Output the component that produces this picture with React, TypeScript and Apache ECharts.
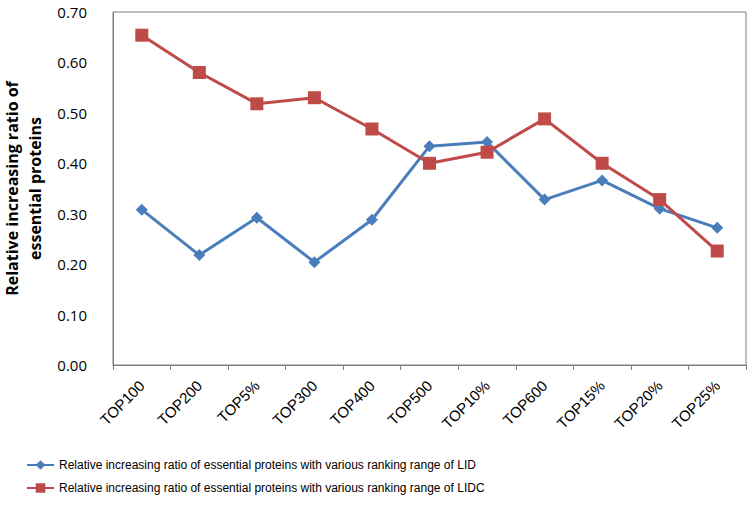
import React, { useEffect, useRef } from "react";
import * as echarts from "echarts";

const categories = ["TOP100", "TOP200", "TOP5%", "TOP300", "TOP400", "TOP500", "TOP10%", "TOP600", "TOP15%", "TOP20%", "TOP25%"];
const lidValues = [0.308, 0.218, 0.292, 0.204, 0.288, 0.434, 0.442, 0.328, 0.366, 0.31, 0.272];
const lidcValues = [0.654, 0.58, 0.518, 0.53, 0.468, 0.4, 0.422, 0.488, 0.4, 0.328, 0.226];
const seriesNames = [
  "Relative increasing ratio of essential proteins with various ranking range of LID",
  "Relative increasing ratio of essential proteins with various ranking range of LIDC",
];
const yAxisName = "Relative increasing ratio of\nessential proteins";

export default function App() {
  const ref = useRef<HTMLDivElement>(null);
  useEffect(() => {
    if (!ref.current) return;
    const chart = echarts.init(ref.current, null, { renderer: "svg" });
    chart.setOption({
      animation: false,
      backgroundColor: "#ffffff",
      grid: {
        left: 113,
        top: 12,
        right: 10,
        bottom: 151,
        show: true,
        borderColor: "#808080",
        borderWidth: 1,
        containLabel: false,
        outerBoundsMode: "none",
      },
      legend: {
        orient: "vertical",
        left: 26,
        top: 459,
        padding: 0,
        itemGap: 11,
        itemWidth: 27,
        itemHeight: 12,
        textStyle: { fontFamily: "Liberation Sans, Arial", fontSize: 12, color: "#000" },
        data: seriesNames,
      },
      xAxis: {
        type: "category",
        data: categories,
        boundaryGap: true,
        axisLine: { lineStyle: { color: "#808080", width: 1 } },
        axisTick: { show: true, alignWithLabel: false, length: 5, lineStyle: { color: "#808080" } },
        axisLabel: {
          rotate: 45,
          interval: 0,
          margin: 18,
          fontFamily: "Liberation Sans, Arial",
          fontSize: 15,
          color: "#000",
        },
      },
      yAxis: {
        type: "value",
        min: 0,
        max: 0.7,
        interval: 0.1,
        name: yAxisName,
        nameLocation: "middle",
        nameGap: 62,
        nameRotate: 90,
        nameTextStyle: {
          fontFamily: "Open Sans, Liberation Sans, Arial",
          fontWeight: "bold",
          fontSize: 16,
          color: "#000",
          lineHeight: 23,
        },
        axisLine: { show: true, lineStyle: { color: "#808080" } },
        axisTick: { show: false },
        splitLine: { show: false },
        axisLabel: {
          formatter: (v: number) => v.toFixed(2),
          fontFamily: "Open Sans, Liberation Sans, Arial",
          fontSize: 15,
          color: "#000",
          margin: 26,
        },
      },
      series: [
        {
          name: seriesNames[0],
          type: "line",
          data: lidValues,
          symbol: "diamond",
          symbolSize: 12,
          lineStyle: { color: "#4a7ebb", width: 3 },
          itemStyle: { color: "#4a7ebb" },
        },
        {
          name: seriesNames[1],
          type: "line",
          data: lidcValues,
          symbol: "rect",
          symbolSize: 13,
          lineStyle: { color: "#be4b48", width: 3 },
          itemStyle: { color: "#be4b48" },
        },
      ],
    });
    return () => chart.dispose();
  }, []);
  return <div ref={ref} style={{ position: "fixed", left: 0, top: 0, width: 756, height: 516 }} />;
}
